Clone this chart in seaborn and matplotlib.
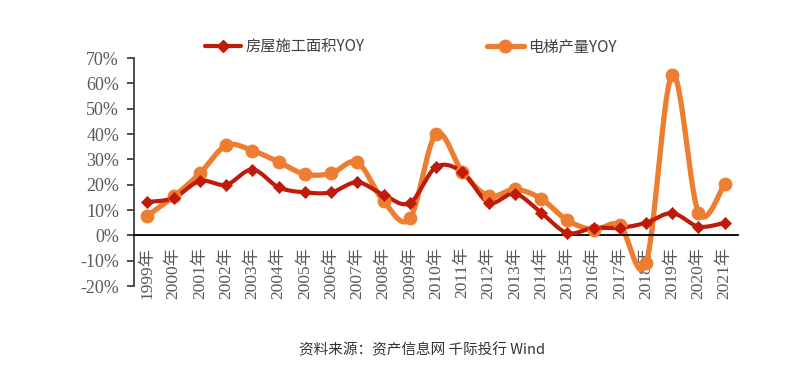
import numpy as np
import pandas as pd
import matplotlib
matplotlib.use("Agg")
import matplotlib.pyplot as plt
import seaborn as sns
from matplotlib.lines import Line2D

years = [f"{y}年" for y in range(1999, 2022)]
area_yoy = [13.2, 14.8, 21.5, 20.0, 26.0, 19.0, 17.0, 17.0, 21.0, 16.0, 12.8, 27.0, 25.0,
            13.0, 16.5, 9.0, 1.0, 3.0, 3.0, 5.0, 8.8, 3.5, 5.0]
elevator_yoy = [7.8, 15.4, 24.5, 35.5, 33.5, 29.0, 24.2, 24.5, 28.8, 13.5, 6.7, 40.0, 25.2,
                15.5, 18.2, 14.5, 6.0, 2.3, 4.0, -11.0, 63.5, 9.0, 20.5]
yticks = list(range(-20, 80, 10))

RED = "#C01A0A"
ORANGE = "#ED7D31"


def smooth(xs, ys, n=30):
    # Catmull-Rom style curve, similar to Excel's smoothed lines
    xs = np.asarray(xs, float)
    ys = np.asarray(ys, float)
    px = np.concatenate([[xs[0]], xs, [xs[-1]]])
    py = np.concatenate([[ys[0]], ys, [ys[-1]]])
    out_x, out_y = [], []
    for i in range(1, len(px) - 2):
        t = np.linspace(0, 1, n, endpoint=False)
        for arr, out in ((px, out_x), (py, out_y)):
            p0, p1, p2, p3 = arr[i - 1], arr[i], arr[i + 1], arr[i + 2]
            out.extend(0.5 * ((2 * p1) + (-p0 + p2) * t + (2 * p0 - 5 * p1 + 4 * p2 - p3) * t ** 2
                              + (-p0 + 3 * p1 - 3 * p2 + p3) * t ** 3))
    out_x.append(xs[-1])
    out_y.append(ys[-1])
    return np.array(out_x), np.array(out_y)


sns.set_style("white")
plt.rcParams["font.family"] = ["Liberation Serif", "Noto Sans CJK SC", "DejaVu Sans"]

fig = plt.figure(figsize=(7.9, 3.77), dpi=100)
ax = fig.add_axes([0.170, 0.241, 0.764, 0.605])

pos = np.arange(len(years))
for vals, color, lw in ((area_yoy, RED, 3.0), (elevator_yoy, ORANGE, 3.8)):
    sx, sy = smooth(pos, vals)
    sns.lineplot(x=sx, y=sy, ax=ax, color=color, linewidth=lw, sort=False, estimator=None,
                 zorder=3 if color == RED else 2)

df = pd.DataFrame({"pos": pos, "area": area_yoy, "elev": elevator_yoy})
sns.scatterplot(data=df, x="pos", y="elev", ax=ax, color=ORANGE, marker="o", s=85, edgecolor=ORANGE, zorder=4)
sns.scatterplot(data=df, x="pos", y="area", ax=ax, color=RED, marker="D", s=38, edgecolor=RED, zorder=5)

ax.set_xlim(-0.5, 22.5)
ax.set_ylim(-20, 70)
ax.set_yticks(yticks)
ax.set_yticklabels([f"{v}%" for v in yticks], fontsize=13, color="#595959")
ax.set_xticks(pos)
ax.set_xticklabels(years)
ax.set_xlabel("")
ax.set_ylabel("")

for s in ("top", "right"):
    ax.spines[s].set_visible(False)
ax.spines["left"].set_color("#404040")
ax.spines["left"].set_linewidth(1.3)
ax.spines["bottom"].set_position(("data", 0))
ax.spines["bottom"].set_color("black")
ax.spines["bottom"].set_linewidth(1.3)
ax.tick_params(axis="y", direction="out", length=5, width=1.3, color="#404040", left=True, pad=6)
ax.tick_params(axis="x", length=0, bottom=False, pad=8, labelrotation=90,
               labelsize=12.5, labelcolor="#595959")
for lab in ax.get_xticklabels():
    lab.set_va("top")

handles = [
    Line2D([0], [0], color=RED, lw=3, marker="D", markersize=6),
    Line2D([0], [0], color=ORANGE, lw=3.8, marker="o", markersize=9),
]
fig.legend(handles, ["房屋施工面积YOY", "电梯产量YOY"], loc="center", ncol=2,
           bbox_to_anchor=(0.52, 0.875), frameon=False, columnspacing=8, handlelength=2.4,
           handletextpad=0.3, prop={"family": ["Noto Sans CJK SC"], "size": 11}, labelcolor="#404040")

fig.text(0.534, 0.07, "资料来源：资产信息网 千际投行 Wind", ha="center", va="center",
         fontsize=10.5, color="#333333", family=["Noto Sans CJK SC", "DejaVu Sans"])

fig.savefig("out.png", dpi=100, facecolor="white")
